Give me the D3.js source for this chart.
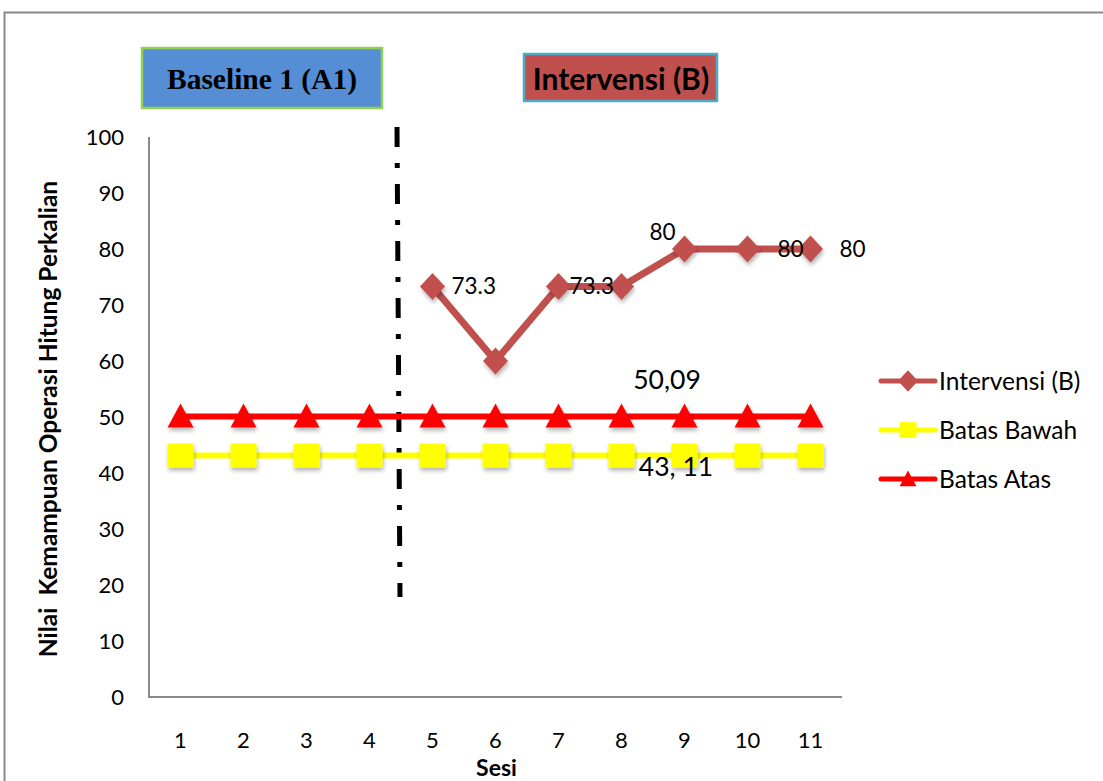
<!DOCTYPE html>
<html><head><meta charset="utf-8">
<script src="https://cdn.jsdelivr.net/npm/d3@7/dist/d3.min.js"></script>
<style>body{margin:0;background:#fff}svg{display:block}</style>
</head><body>
<script>
const sessions = [1,2,3,4,5,6,7,8,9,10,11];
const intervSessions = [5,6,7,8,9,10,11];
const intervValues = [73.3,60,73.3,73.3,80,80,80];
const intervLabels = ["73.3","","73.3","","80","80","80"];
const batasAtas = 50.09;
const batasBawah = 43.11;
const yTicks = [0,10,20,30,40,50,60,70,80,90,100];
const seriesNames = ["Intervensi (B)","Batas Bawah","Batas Atas"];

const W=1103,H=781;
const svg=d3.select("body").append("svg").attr("width",W).attr("height",H);
const font="Lato, 'Open Sans', sans-serif";

const defs=svg.append("defs");
const f=defs.append("filter").attr("id","sh").attr("x","-50%").attr("y","-50%").attr("width","200%").attr("height","200%");
f.append("feDropShadow").attr("dx",1).attr("dy",3).attr("stdDeviation",2).attr("flood-color","#000").attr("flood-opacity",0.3);

// outer frame
svg.append("path").attr("d","M4.5,781 V12.5 H1103").attr("fill","none").attr("stroke","#888").attr("stroke-width",2);

const x=d3.scaleBand().domain(sessions).range([149,842]);
const y=d3.scaleLinear().domain([0,100]).range([697,137]);
const cx=d=>x(d)+x.bandwidth()/2;

// axes
svg.append("line").attr("x1",149).attr("x2",149).attr("y1",y(100)).attr("y2",y(0)).attr("stroke","#888").attr("stroke-width",2);
svg.append("line").attr("x1",148).attr("x2",842).attr("y1",y(0)).attr("y2",y(0)).attr("stroke","#888").attr("stroke-width",2);
svg.selectAll(".yt").data(yTicks).enter().append("text").attr("x",124).attr("y",d=>y(d)).attr("dy","0.35em")
 .attr("text-anchor","end").attr("font-family",font).attr("font-size",22).text(d=>d);
svg.selectAll(".xt").data(sessions).enter().append("text").attr("x",d=>cx(d)).attr("y",740).attr("dy","0.35em")
 .attr("text-anchor","middle").attr("font-family",font).attr("font-size",22).text(d=>d);
svg.append("text").attr("x",cx(6)+1).attr("y",768).attr("dy","0.35em").attr("text-anchor","middle")
 .attr("font-family",font).attr("font-weight","bold").attr("font-size",23).text("Sesi");
svg.append("text").attr("transform","translate(48,419) rotate(-90)").attr("dy","0.35em").attr("text-anchor","middle")
 .attr("font-family",font).attr("font-weight","bold").attr("font-size",24.5).attr("xml:space","preserve")
 .text("Nilai  Kemampuan Operasi Hitung Perkalian");

// phase line
svg.append("line").attr("x1",397).attr("y1",127).attr("x2",400).attr("y2",597).attr("stroke","#000")
 .attr("stroke-width",5).attr("stroke-dasharray","20,16,5,16");

const tri="M0,-13 L13,11 L-13,11 Z";
const sq="M-13,-12 H13 V12 H-13 Z";
const dia="M0,-13.5 L12.5,0 L0,13.5 L-12.5,0 Z";

// Batas Bawah
const lineGen=d3.line().x(d=>cx(d[0])).y(d=>y(d[1]));
svg.append("path").attr("d",lineGen(sessions.map(s=>[s,batasBawah]))).attr("fill","none").attr("stroke","#FFFF00").attr("stroke-width",6);
svg.selectAll(".sq").data(sessions).enter().append("path").attr("d",sq)
 .attr("transform",d=>`translate(${cx(d)},${y(batasBawah)})`).attr("fill","#FFFF00").attr("filter","url(#sh)");
// Batas Atas
svg.append("path").attr("d",lineGen(sessions.map(s=>[s,batasAtas]))).attr("fill","none").attr("stroke","#FF0000").attr("stroke-width",6);
svg.selectAll(".tr").data(sessions).enter().append("path").attr("d",tri)
 .attr("transform",d=>`translate(${cx(d)},${y(batasAtas)})`).attr("fill","#FF0000").attr("filter","url(#sh)");
// Intervensi
const iv=intervSessions.map((s,i)=>[s,intervValues[i]]);
svg.append("path").attr("d",lineGen(iv)).attr("fill","none").attr("stroke","#C0504D").attr("stroke-width",7).attr("stroke-linejoin","round");
svg.selectAll(".dm").data(iv).enter().append("path").attr("d",dia)
 .attr("transform",d=>`translate(${cx(d[0])},${y(d[1])})`).attr("fill","#C0504D").attr("filter","url(#sh)");

// data labels
const lblOff=[[19,0],[0,0],[11,0],[0,0],[-22,-17],[30,0],[29,0]];
svg.selectAll(".dl").data(iv).enter().append("text")
 .attr("x",(d,i)=>cx(d[0])+lblOff[i][0]).attr("y",(d,i)=>y(d[1])+lblOff[i][1]).attr("dy","0.35em")
 .attr("text-anchor",(d,i)=>i===4?"middle":"start").attr("font-family",font).attr("font-size",22.5)
 .text((d,i)=>intervLabels[i]);
svg.append("text").attr("x",667).attr("y",380).attr("dy","0.35em").attr("text-anchor","middle").attr("font-family",font).attr("font-size",26.5).text("50,09");
svg.append("text").attr("x",676).attr("y",467).attr("dy","0.35em").attr("text-anchor","middle").attr("font-family",font).attr("font-size",26.5).text("43, 11");

// legend
const legY=[381,430,479];
const legColors=["#C0504D","#FFFF00","#FF0000"];
const legShapes=[dia,sq,tri];
seriesNames.forEach((n,i)=>{
  svg.append("line").attr("x1",881).attr("x2",935).attr("y1",legY[i]).attr("y2",legY[i]).attr("stroke",legColors[i]).attr("stroke-width",5).attr("stroke-linecap","round");
  svg.append("path").attr("d",legShapes[i]).attr("transform",`translate(908,${legY[i]}) scale(${i===0?0.8:0.65})`).attr("fill",legColors[i]);
  svg.append("text").attr("x",939).attr("y",legY[i]).attr("dy","0.35em").attr("font-family",font).attr("font-size",24.5).text(n);
});

// phase boxes
svg.append("rect").attr("x",142).attr("y",48).attr("width",240).attr("height",60).attr("fill","#558ED5").attr("stroke","#92D050").attr("stroke-width",2.5);
svg.append("text").attr("x",262).attr("y",79).attr("dy","0.35em").attr("text-anchor","middle").attr("font-family","'Liberation Serif', serif")
 .attr("font-weight","bold").attr("font-size",29.5).text("Baseline 1 (A1)");
svg.append("rect").attr("x",524).attr("y",54).attr("width",193).attr("height",47).attr("fill","#C0504D").attr("stroke","#4BACC6").attr("stroke-width",2.5);
svg.append("text").attr("x",621).attr("y",79).attr("dy","0.35em").attr("text-anchor","middle").attr("font-family",font)
 .attr("font-weight","bold").attr("font-size",30).text("Intervensi (B)");
</script>
</body></html>
